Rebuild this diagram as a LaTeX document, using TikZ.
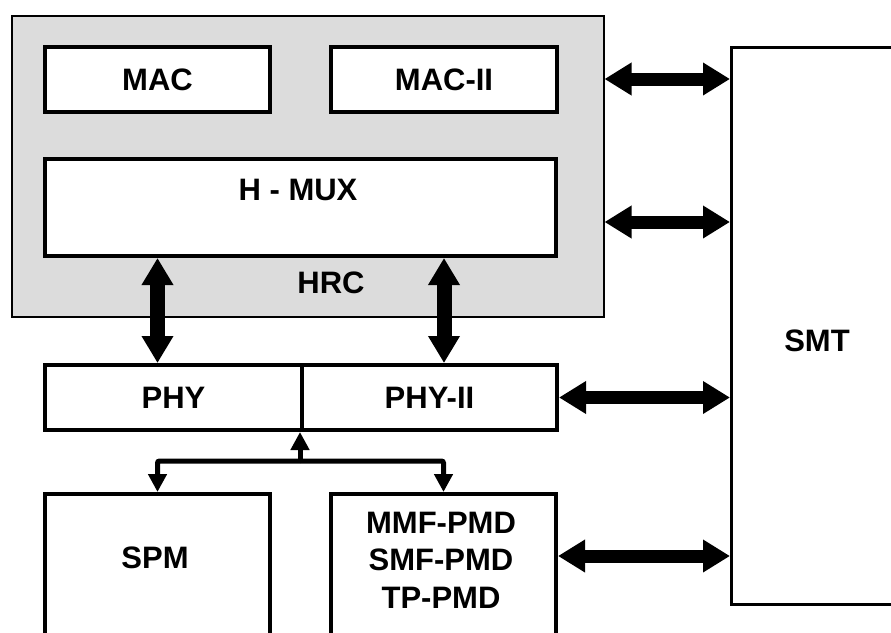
\documentclass[tikz,border=0pt]{standalone}
\usepackage{fontspec}
\setmainfont{Liberation Sans}
\usetikzlibrary{arrows.meta}
\definecolor{hrcgray}{HTML}{DCDCDC}
\begin{document}
\begin{tikzpicture}[x=1pt,y=-1pt,
  every node/.style={font=\fontsize{31}{37.5}\selectfont\bfseries},
  blk/.style={draw=black,line width=4pt,fill=white,inner sep=0pt,anchor=north west},
  bigarrow/.style={line width=13pt,{Triangle[length=27pt,width=31pt]}-{Triangle[length=27pt,width=31pt]}},
  vertarrow/.style={line width=15pt,{Triangle[length=27pt,width=30pt]}-{Triangle[length=27pt,width=30pt]}},
  smallarrow/.style={line width=5pt,-{Triangle[length=18pt,width=18pt]},rounded corners=2pt},
  txt/.style={inner sep=0pt,align=center}]
\useasboundingbox (0,0) rectangle (891,632);
\fill[white] (0,0) rectangle (891,632);
\clip (0,0) rectangle (891,632);
% HRC container
\node[draw=black,line width=1.5pt,fill=hrcgray,inner sep=0pt,anchor=north west,
      minimum width=592pt,minimum height=301pt] (hrc) at (11,15) {};
\node[blk,minimum width=225pt,minimum height=65pt] (mac) at (43,45) {MAC};
\node[blk,minimum width=226pt,minimum height=65pt] (mac2) at (329,45) {MAC-II};
\node[blk,minimum width=511pt,minimum height=97pt] (hmux) at (43,157) {};
\node[txt] (hmuxlbl) at (298,190) {H - MUX};
\node[txt] (hrclbl) at (331,283) {HRC};
% PHY
\node[blk,minimum width=257pt,minimum height=65pt] (phy) at (43,363) {PHY};
\node[blk,minimum width=255pt,minimum height=65pt] (phy2) at (300,363) {PHY-II};
% lower boxes
\node[blk,minimum width=225pt,minimum height=220pt] (spm) at (43,492) {};
\node[txt] (spmlbl) at (155,558) {SPM};
\node[blk,minimum width=225pt,minimum height=220pt] (mmf) at (329,492) {};
\node[txt] (mmflbl) at (441,560) {MMF-PMD\\SMF-PMD\\TP-PMD};
% SMT
\node[draw=black,line width=2.5pt,fill=white,inner sep=0pt,anchor=north west,
      minimum width=175pt,minimum height=557pt] (smt) at (730,46) {};
\node[txt] (smtlbl) at (817,341) {SMT};
% horizontal arrows to SMT
\coordinate (y1) at (0,79);
\coordinate (y2) at (0,222);
\coordinate (y4) at (0,556);
\draw[bigarrow] (hrc.east |- y1) -- (smt.west |- y1);
\draw[bigarrow] (hrc.east |- y2) -- (smt.west |- y2);
\draw[bigarrow] (phy2.east) -- (smt.west |- phy2.east);
\draw[bigarrow] (mmf.east |- y4) -- (smt.west |- y4);
% vertical arrows HMUX <-> PHY
\draw[vertarrow] (hmux.south -| mac.center) -- (phy.north -| mac.center);
\draw[vertarrow] (hmux.south -| mac2.center) -- (phy2.north -| mac2.center);
% PHY <-> PMDs
\coordinate (split) at (300,461);
\draw[smallarrow] (split) -- (split |- phy.south);
\draw[smallarrow] (split) -| (spm.north);
\draw[smallarrow] (split) -| (mmf.north);
\end{tikzpicture}
\end{document}
